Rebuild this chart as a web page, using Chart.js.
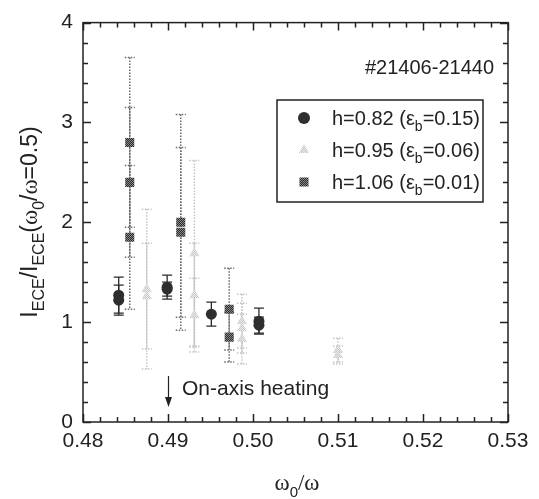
<!DOCTYPE html>
<html>
<head>
<meta charset="utf-8">
<script src="https://cdn.jsdelivr.net/npm/chart.js@4/dist/chart.umd.min.js"></script>
<style>
html, body { margin: 0; padding: 0; background: #fff; }
</style>
</head>
<body>
<canvas id="myChart" width="539" height="499"></canvas>
<script>
// h=0.82 (eps_b=0.15)
var circleX = [0.4842, 0.4842, 0.4899, 0.4899, 0.4951, 0.5007, 0.5007];
var circleY = [1.27, 1.22, 1.35, 1.33, 1.08, 1.01, 0.97];
var circleErr = [0.18, 0.15, 0.12, 0.07, 0.12, 0.13, 0.08];

// h=0.95 (eps_b=0.06)
var triX = [0.4875, 0.4875, 0.4931, 0.4931, 0.4931, 0.4987, 0.4987, 0.4987, 0.5100, 0.5100];
var triY = [1.33, 1.26, 1.69, 1.27, 1.07, 1.01, 0.94, 0.83, 0.72, 0.67];
var triErr = [0.80, 0.53, 0.93, 0.52, 0.37, 0.27, 0.25, 0.25, 0.12, 0.09];

// h=1.06 (eps_b=0.01)
var squareX = [0.4855, 0.4855, 0.4855, 0.4915, 0.4915, 0.4972, 0.4972];
var squareY = [2.80, 2.40, 1.85, 2.00, 1.90, 1.13, 0.85];
var squareErr = [0.85, 0.75, 0.72, 1.08, 0.85, 0.41, 0.25];

var legendLabels = [
    ['h=0.82 (\u03b5', 'b', '=0.15)'],
    ['h=0.95 (\u03b5', 'b', '=0.06)'],
    ['h=1.06 (\u03b5', 'b', '=0.01)']
];
var shotLabel = '#21406-21440';
var arrowX = 0.49;
var arrowFrom = 0.46;
var arrowTo = 0.15;

var FONT = '"Liberation Sans", Arial, sans-serif';
var SERIF = '"Liberation Serif", "Times New Roman", serif';

function makePattern(c1, c2) {
    var p = document.createElement('canvas');
    p.width = 2; p.height = 2;
    var pc = p.getContext('2d');
    pc.fillStyle = c1; pc.fillRect(0, 0, 2, 2);
    pc.fillStyle = c2; pc.fillRect(0, 0, 1, 1); pc.fillRect(1, 1, 1, 1);
    return document.getElementById('myChart').getContext('2d').createPattern(p, 'repeat');
}

var squareFill = makePattern('#2a2a2a', '#8a8a8a');
var triFill = makePattern('#c8c8c8', '#ececec');
var circleFill = '#2e2e2e';

function toPoints(xs, ys) {
    return xs.map(function (x, i) { return { x: x, y: ys[i] }; });
}

// draws text pieces, pieces marked sub are lowered and smaller
function drawRuns(ctx, x, y, parts, size, subSize) {
    var cx = x;
    parts.forEach(function (p) {
        ctx.font = (p.sub ? subSize : size) + 'px ' + (p.family || FONT);
        ctx.fillText(p.t, cx, p.sub ? y + size * 0.3 : y);
        cx += ctx.measureText(p.t).width;
    });
    return cx - x;
}
function runsWidth(ctx, parts, size, subSize) {
    var w = 0;
    parts.forEach(function (p) {
        ctx.font = (p.sub ? subSize : size) + 'px ' + (p.family || FONT);
        w += ctx.measureText(p.t).width;
    });
    return w;
}

var errorBars = {
    id: 'errorBars',
    beforeDatasetsDraw: function (chart) {
        var ctx = chart.ctx;
        var xs = chart.scales.x, ys = chart.scales.y;
        chart.data.datasets.forEach(function (ds) {
            ctx.save();
            ctx.strokeStyle = ds.errColor;
            ctx.lineWidth = ds.errWidth;
            ctx.setLineDash(ds.errDash);
            ds.data.forEach(function (p, i) {
                var px = xs.getPixelForValue(p.x);
                var top = ys.getPixelForValue(p.y + ds.err[i]);
                var bot = ys.getPixelForValue(p.y - ds.err[i]);
                var cap = ds.capWidth;
                ctx.beginPath();
                ctx.moveTo(px, top); ctx.lineTo(px, bot);
                ctx.moveTo(px - cap, top); ctx.lineTo(px + cap, top);
                ctx.moveTo(px - cap, bot); ctx.lineTo(px + cap, bot);
                ctx.stroke();
            });
            ctx.restore();
        });
    }
};

var decorations = {
    id: 'decorations',
    afterDraw: function (chart) {
        var ctx = chart.ctx;
        var a = chart.chartArea;
        var xs = chart.scales.x, ys = chart.scales.y;
        ctx.save();
        ctx.strokeStyle = '#222';
        ctx.lineWidth = 1.5;
        ctx.strokeRect(a.left, a.top, a.right - a.left, a.bottom - a.top);

        // inward ticks
        ctx.beginPath();
        for (var k = 0; k <= 25; k++) {
            var v = 0.48 + k * 0.002;
            var px = Math.round(xs.getPixelForValue(v)) + 0.5;
            var len = (k % 5 === 0) ? 8 : 5;
            ctx.moveTo(px, a.bottom); ctx.lineTo(px, a.bottom - len);
            ctx.moveTo(px, a.top); ctx.lineTo(px, a.top + len);
        }
        for (var j = 0; j <= 20; j++) {
            var py = Math.round(ys.getPixelForValue(j * 0.2)) + 0.5;
            var len2 = (j % 5 === 0) ? 8 : 5;
            ctx.moveTo(a.left, py); ctx.lineTo(a.left + len2, py);
            ctx.moveTo(a.right, py); ctx.lineTo(a.right - len2, py);
        }
        ctx.stroke();

        // legend
        ctx.lineWidth = 1.5;
        ctx.strokeRect(277, 100, 206, 102);
        var fills = [circleFill, triFill, squareFill];
        var styles = ['circle', 'triangle', 'rect'];
        var radii = [6, 6, 6.4];
        legendLabels.forEach(function (lab, i) {
            var ly = 118 + i * 32;
            ctx.save();
            ctx.fillStyle = fills[i];
            ctx.strokeStyle = fills[i];
            Chart.helpers.drawPoint(ctx, { pointStyle: styles[i], radius: radii[i], rotation: 0, borderWidth: 0 }, 304, ly);
            ctx.restore();
            ctx.fillStyle = '#222';
            ctx.textBaseline = 'alphabetic';
            drawRuns(ctx, 332, ly + 7, [{ t: lab[0] }, { t: lab[1], sub: true }, { t: lab[2] }], 20, 14);
        });

        // shot numbers
        ctx.font = '20px ' + FONT;
        ctx.textAlign = 'right';
        ctx.textBaseline = 'alphabetic';
        ctx.fillText(shotLabel, 494, 74);
        ctx.textAlign = 'left';

        // on-axis arrow
        var ax = Math.round(xs.getPixelForValue(arrowX)) + 0.5;
        var ay1 = ys.getPixelForValue(arrowFrom);
        var ay2 = ys.getPixelForValue(arrowTo);
        ctx.lineWidth = 1.2;
        ctx.beginPath();
        ctx.moveTo(ax, ay1); ctx.lineTo(ax, ay2 - 6);
        ctx.stroke();
        ctx.beginPath();
        ctx.moveTo(ax - 3.5, ay2 - 10); ctx.lineTo(ax + 3.5, ay2 - 10); ctx.lineTo(ax, ay2);
        ctx.closePath();
        ctx.fill();
        ctx.font = '21px ' + FONT;
        ctx.fillText('On-axis heating', 182, 395);

        // x title
        var xt = [{ t: '\u03c9', family: SERIF }, { t: '0', sub: true }, { t: '/\u03c9', family: SERIF }];
        var w = runsWidth(ctx, xt, 23, 15);
        drawRuns(ctx, 297 - w / 2, 490, xt, 23, 15);

        // y title
        var yt = [{ t: 'I' }, { t: 'ECE', sub: true }, { t: '/I' }, { t: 'ECE', sub: true },
            { t: '(' }, { t: '\u03c9', family: SERIF }, { t: '0', sub: true }, { t: '/' },
            { t: '\u03c9', family: SERIF }, { t: '=0.5)' }];
        var wy = runsWidth(ctx, yt, 23, 16);
        ctx.translate(37, 222);
        ctx.rotate(-Math.PI / 2);
        drawRuns(ctx, -wy / 2, 0, yt, 23, 16);
        ctx.restore();
    }
};

var ctx = document.getElementById('myChart').getContext('2d');
var myChart = new Chart(ctx, {
    type: 'scatter',
    data: {
        datasets: [{
            label: 'h=0.95',
            data: toPoints(triX, triY),
            err: triErr,
            pointStyle: 'triangle',
            pointRadius: 6,
            backgroundColor: triFill,
            borderWidth: 0,
            errColor: '#c4c4c4', errWidth: 1.5, errDash: [1.5, 1.5], capWidth: 5
        }, {
            label: 'h=1.06',
            data: toPoints(squareX, squareY),
            err: squareErr,
            pointStyle: 'rect',
            pointRadius: 6.4,
            backgroundColor: squareFill,
            borderWidth: 0,
            errColor: '#6a6a6a', errWidth: 1.5, errDash: [1.5, 1.5], capWidth: 5
        }, {
            label: 'h=0.82',
            data: toPoints(circleX, circleY),
            err: circleErr,
            pointStyle: 'circle',
            pointRadius: 5.5,
            backgroundColor: circleFill,
            borderWidth: 0,
            errColor: '#2a2a2a', errWidth: 1.3, errDash: [], capWidth: 5
        }]
    },
    options: {
        responsive: false,
        animation: false,
        layout: { padding: { top: 17, right: 31, left: 0, bottom: 0 } },
        plugins: { legend: { display: false }, tooltip: { enabled: false } },
        scales: {
            x: {
                type: 'linear', min: 0.48, max: 0.53,
                afterFit: function (s) { s.height = 77; },
                grid: { display: false, drawTicks: false },
                border: { display: false },
                ticks: {
                    stepSize: 0.01, padding: 7, color: '#222',
                    font: { family: FONT, size: 21 },
                    callback: function (v) { return v.toFixed(2); }
                }
            },
            y: {
                min: 0, max: 4,
                afterFit: function (s) { s.width = 83; },
                grid: { display: false, drawTicks: false },
                border: { display: false },
                ticks: {
                    stepSize: 1, padding: 10, color: '#222',
                    font: { family: FONT, size: 21 }
                }
            }
        }
    },
    plugins: [errorBars, decorations]
});
</script>
</body>
</html>
